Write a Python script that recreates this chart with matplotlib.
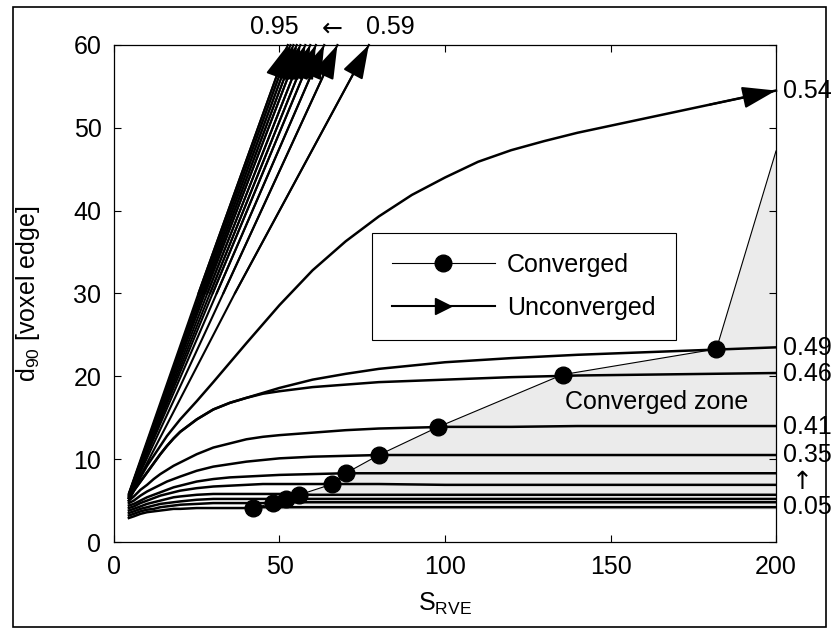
import matplotlib
matplotlib.use('Agg')
import matplotlib.pyplot as plt
from matplotlib.patches import Polygon, Rectangle

plt.rcParams['font.family'] = ['Liberation Sans', 'DejaVu Sans']
plt.rcParams['mathtext.fontset'] = 'custom'
plt.rcParams['mathtext.rm'] = 'Liberation Sans'
plt.rcParams['mathtext.it'] = 'Liberation Sans:italic'

FS = 18

s_rve = [4.5, 6, 8, 10, 12, 14, 16, 18, 20, 25, 30, 35, 40, 45, 50, 60, 70, 80,
         100, 120, 140, 160, 180, 200]

# converged curves, porosity 0.49 down to 0.05
d90_049 = [5.3, 6.2, 7.3, 8.4, 9.5, 10.6, 11.6, 12.5, 13.3, 14.8, 16.0, 16.8, 17.4,
           18.0, 18.6, 19.6, 20.3, 20.9, 21.7, 22.2, 22.6, 22.9, 23.2, 23.5]
d90_046 = [5.3, 6.2, 7.3, 8.4, 9.5, 10.6, 11.6, 12.5, 13.3, 14.8, 16.0, 16.8, 17.4,
           17.9, 18.2, 18.7, 19.0, 19.3, 19.6, 19.9, 20.1, 20.2, 20.3, 20.4]
d90_041 = [5.0, 5.5, 6.3, 6.9, 7.6, 8.2, 8.7, 9.2, 9.6, 10.6, 11.4, 11.9, 12.4,
           12.7, 12.9, 13.2, 13.5, 13.7, 13.9, 13.9, 14.0, 14.0, 14.0, 14.0]
d90_035 = [4.7, 5.0, 5.6, 6.1, 6.5, 6.9, 7.3, 7.6, 7.9, 8.6, 9.1, 9.4, 9.7,
           9.9, 10.1, 10.3, 10.4, 10.5, 10.5, 10.5, 10.5, 10.5, 10.5, 10.5]
d90_030 = [4.4, 4.6, 5.0, 5.4, 5.7, 6.0, 6.3, 6.6, 6.8, 7.3, 7.6, 7.8, 7.9,
           8.0, 8.1, 8.2, 8.3, 8.3, 8.3, 8.3, 8.3, 8.3, 8.3, 8.3]
d90_025 = [4.1, 4.3, 4.7, 5.0, 5.3, 5.6, 5.8, 6.0, 6.2, 6.5, 6.7, 6.8, 6.9,
           7.0, 7.0, 7.0, 7.0, 7.0, 6.9, 6.9, 6.9, 6.9, 6.9, 6.9]
d90_020 = [3.8, 4.0, 4.3, 4.6, 4.8, 5.0, 5.2, 5.4, 5.5, 5.7, 5.8, 5.8, 5.8,
           5.8, 5.8, 5.7, 5.7, 5.7, 5.7, 5.7, 5.7, 5.7, 5.7, 5.7]
d90_015 = [3.5, 3.7, 4.0, 4.2, 4.4, 4.6, 4.7, 4.8, 4.9, 5.1, 5.2, 5.2, 5.2,
           5.2, 5.2, 5.2, 5.2, 5.2, 5.2, 5.2, 5.2, 5.2, 5.2, 5.2]
d90_010 = [3.2, 3.4, 3.7, 3.9, 4.0, 4.2, 4.3, 4.4, 4.5, 4.6, 4.7, 4.7, 4.7,
           4.7, 4.8, 4.8, 4.8, 4.8, 4.8, 4.8, 4.8, 4.8, 4.8, 4.8]
d90_005 = [2.9, 3.1, 3.4, 3.6, 3.7, 3.8, 3.9, 4.0, 4.0, 4.1, 4.1, 4.1, 4.1,
           4.2, 4.2, 4.2, 4.2, 4.2, 4.2, 4.2, 4.2, 4.2, 4.2, 4.2]

converged = [d90_049, d90_046, d90_041, d90_035, d90_030,
             d90_025, d90_020, d90_015, d90_010, d90_005]

# unconverged curve that reaches the right edge (porosity 0.54)
s_054 = [4.5, 6, 8, 10, 12, 16, 20, 25, 30, 40, 50, 60, 70, 80, 90, 100, 110,
         120, 130, 140, 160, 180, 200]
d90_054 = [5.0, 6.2, 7.8, 9.2, 10.4, 12.8, 14.8, 17.0, 19.3, 24.0, 28.6, 32.8,
           36.3, 39.3, 41.9, 44.0, 45.9, 47.3, 48.4, 49.4, 51.1, 52.8, 54.5]

# convergence points
conv_s = [42, 48, 52, 56, 66, 70, 80, 98, 135.5, 182]
conv_d = [4.1, 4.7, 5.2, 5.7, 7.0, 8.3, 10.5, 13.9, 20.2, 23.3]

# unconverged curves (porosity 0.95 ... 0.59) leaving through the top
unconv_y0 = [5.9, 5.8, 5.8, 5.7, 5.7, 5.6, 5.6, 5.5, 5.5, 5.4, 5.3]
unconv_xmid = [25.5, 26.0, 26.5, 27.0, 27.5, 28.2, 29.0, 29.8, 31.0, 33.0, 36.5]
unconv_xtip = [52.5, 53.3, 54.2, 55.2, 56.3, 57.8, 59.3, 61.0, 63.5, 67.5, 77.0]

# edge of converged zone above the last point
zone_top = (200, 47.2)
zone_bottom = 3.9

right_labels = ['0.54', '0.49', '0.46', '0.41', '0.35', '0.05']
right_label_y = [54.5, 23.4, 20.3, 13.9, 10.5, 4.2]

fig = plt.figure(figsize=(8.32, 6.29), dpi=100)
ax = fig.add_axes([0.137, 0.1383, 0.7957, 0.7902])

# shaded converged zone
zone = list(zip(conv_s, conv_d)) + [zone_top, (200, zone_bottom), (conv_s[0], zone_bottom)]
ax.add_patch(Polygon(zone, closed=True, facecolor='#ebebeb', edgecolor='none', zorder=0))
ax.plot([conv_s[-1], zone_top[0]], [conv_d[-1], zone_top[1]], color='k', lw=0.8, zorder=2)

for yy in converged:
    ax.plot(s_rve, yy, color='k', lw=1.8, zorder=3)

ax.plot(conv_s, conv_d, color='k', lw=0.8, zorder=4)
ax.plot(conv_s, conv_d, 'o', color='k', ms=12, zorder=5)

arrow_kw = dict(arrowstyle='-|>,head_length=1.05,head_width=0.34', color='k', lw=1.5,
                shrinkA=0, shrinkB=0, mutation_scale=20)

for y0, xm, xt in zip(unconv_y0, unconv_xmid, unconv_xtip):
    ax.plot([s_rve[0], xm, xt], [y0, 30, 60], color='k', lw=1.5, zorder=3, clip_on=False)
    ax.annotate('', xy=(xt, 60), xytext=(xm, 30), arrowprops=arrow_kw,
                annotation_clip=False, zorder=4)

ax.plot(s_054, d90_054, color='k', lw=1.8, zorder=3, clip_on=False)
ax.annotate('', xy=(s_054[-1], d90_054[-1]), xytext=(s_054[-2], d90_054[-2]),
            arrowprops=arrow_kw, annotation_clip=False, zorder=4)

ax.set_xlim(0, 200)
ax.set_ylim(0, 60)
ax.set_xticks([0, 50, 100, 150, 200])
ax.set_yticks([0, 10, 20, 30, 40, 50, 60])
ax.tick_params(direction='in', top=True, right=True, length=5, width=0.8,
               labelsize=FS, pad=9)
for sp in ax.spines.values():
    sp.set_linewidth(0.9)

ax.set_xlabel(r'$\mathregular{S_{RVE}}$', fontsize=FS)
ax.set_ylabel(r'$\mathregular{d_{90}}$ [voxel edge]', fontsize=FS)
ax.xaxis.set_label_coords(0.5, -0.098)
ax.yaxis.set_label_coords(-0.109, 0.5)

# labels outside the axes
for lab, yv in zip(right_labels, right_label_y):
    ax.text(202, yv, lab, fontsize=FS, va='center', ha='left', clip_on=False)
ax.text(208, 7.3, '\u2191', fontsize=FS, family='DejaVu Sans', va='center',
        ha='center', clip_on=False)
ax.text(48.3, 62.2, '0.95', fontsize=FS, va='center', ha='center', clip_on=False)
ax.text(66, 62.0, '\u2190', fontsize=FS, family='DejaVu Sans', va='center',
        ha='center', clip_on=False)
ax.text(83.4, 62.2, '0.59', fontsize=FS, va='center', ha='center', clip_on=False)

ax.text(164, 16.9, 'Converged zone', fontsize=FS, va='center', ha='center', zorder=6)

# legend
h1, = ax.plot([], [], color='k', lw=0.8, marker='o', ms=12)
h2, = ax.plot([], [], color='k', lw=1.5, marker='>', ms=12)
leg = ax.legend([h1, h2], ['Converged', 'Unconverged'], loc='upper left',
                bbox_to_anchor=(0.39, 0.622), borderaxespad=0, fontsize=FS,
                handlelength=4.1, handletextpad=0.5, labelspacing=0.75,
                borderpad=0.8, numpoints=1, fancybox=False, framealpha=1,
                edgecolor='k')
leg.get_frame().set_linewidth(0.8)
leg.set_zorder(10)

# frame around the whole figure
fig.patches.append(Rectangle((0.0156, 0.003), 0.977, 0.986, transform=fig.transFigure,
                             fill=False, lw=1.2, edgecolor='k'))

fig.savefig('out.png', dpi=100)
